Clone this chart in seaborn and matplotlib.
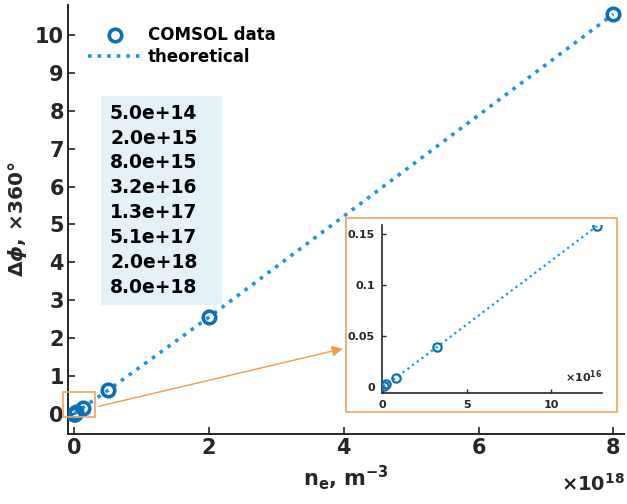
import matplotlib
matplotlib.use("Agg")
import matplotlib.pyplot as plt
import seaborn as sns
from matplotlib.patches import Rectangle

# data
ne = [5.0e14, 2.0e15, 8.0e15, 3.2e16, 1.27e17, 5.1e17, 2.0e18, 8.0e18]
phase = [0.0006, 0.0025, 0.0092, 0.039, 0.158, 0.63, 2.55, 10.55]
theory_phase = [0.0006, 0.0025, 0.0092, 0.039, 0.158, 0.63, 2.55, 10.55]
ne_labels = ["5.0e+14", "2.0e+15", "8.0e+15", "3.2e+16",
             "1.3e+17", "5.1e+17", "2.0e+18", "8.0e+18"]

# inset: only points below 2e17, x in units of 1e16
ne_small = [n / 1e16 for n in ne[:5]]
phase_small = phase[:5]
theory_small = theory_phase[:5]

sns.set_style("ticks")
plt.rcParams["font.family"] = ["DejaVu Sans"]
plt.rcParams["font.weight"] = "bold"
plt.rcParams["mathtext.fontset"] = "dejavusans"

dark = "#262626"
mark_col = "#0e6fb8"
line_col = "#1d95e2"
orange = "#f4a261"

fig = plt.figure(figsize=(6.27, 5.04), dpi=100)
ax = fig.add_axes([0.1085, 0.139, 0.887, 0.851])

ne18 = [n / 1e18 for n in ne]
sns.lineplot(x=ne18, y=phase, ax=ax, marker="o", linestyle="none",
             markerfacecolor="none", markeredgecolor=mark_col, ms=9, mew=2.6,
             label="COMSOL data", zorder=3)
sns.lineplot(x=ne18, y=theory_phase, ax=ax, color=line_col, linestyle=":",
             lw=2.6, label="theoretical", zorder=2)

ax.set_xlim(-0.089, 8.16)
ax.set_ylim(-0.53, 10.79)
ax.set_xticks([0, 2, 4, 6, 8])
ax.set_yticks(range(0, 11))
ax.tick_params(direction="in", length=5, width=1.2, labelsize=15, colors=dark, pad=3)
for lab in ax.get_xticklabels() + ax.get_yticklabels():
    lab.set_fontweight("bold")
sns.despine(ax=ax)
for s in ["left", "bottom"]:
    ax.spines[s].set_linewidth(1.4)
    ax.spines[s].set_color(dark)

ax.set_xlabel(r"n$_\mathbf{e}$, m$^\mathbf{-3}$", fontsize=15, fontweight="bold",
              color=dark, labelpad=4)
ax.set_ylabel(r"$\Delta\phi$, $\times$360°", fontsize=14.5, fontweight="bold",
              color=dark, labelpad=4)
fig.text(0.997, 0.040, r"$\times$10$^\mathbf{18}$", ha="right", va="center",
         fontsize=14, fontweight="bold", color=dark)

leg = ax.legend(loc="upper left", bbox_to_anchor=(0.036, 0.95), frameon=False,
                fontsize=12, handlelength=3.2, handletextpad=0.4,
                labelspacing=0.2, borderpad=0, borderaxespad=0)
for t in leg.get_texts():
    t.set_fontweight("bold")
    t.set_color("black")

# box with the densities
ax.add_patch(Rectangle((0.059, 0.3007), 0.2176, 0.487, transform=ax.transAxes,
                       facecolor="#e4f2f8", edgecolor="none", zorder=1))
for i, lab in enumerate(ne_labels):
    ax.text(0.0755, 0.748 - i * 0.058, lab, transform=ax.transAxes,
            fontsize=13.5, fontweight="bold", color="black", va="center", zorder=4)

# small rectangle around the zoomed region
ax.add_patch(Rectangle((-0.16, -0.08), 0.47, 0.66, facecolor="none",
                       edgecolor=orange, lw=1.2, clip_on=False, zorder=5))

# frame around the inset
fig.patches.append(Rectangle((0.552, 0.1825), 0.432, 0.385, transform=fig.transFigure,
                             facecolor="white", edgecolor=orange, lw=1.2, zorder=1))

ax.annotate("", xy=(0.551, 0.3095), xytext=(0.153, 0.1925),
            xycoords="figure fraction", textcoords="figure fraction",
            arrowprops=dict(arrowstyle="-|>", color="#f29a48", lw=1.0,
                            mutation_scale=16))

# inset
axi = fig.add_axes([0.609, 0.2202, 0.351, 0.333])
axi.set_zorder(3)
sns.lineplot(x=ne_small, y=theory_small, ax=axi, color=line_col, linestyle=":",
             lw=1.6, zorder=2)
sns.lineplot(x=ne_small, y=phase_small, ax=axi, marker="o", linestyle="none",
             markerfacecolor="none", markeredgecolor=mark_col, ms=6, mew=1.6, zorder=3)
axi.set_xlim(-0.05, 13.0)
axi.set_ylim(-0.006, 0.159)
axi.set_xticks([0, 5, 10])
axi.set_yticks([0, 0.05, 0.1, 0.15])
axi.set_yticklabels(["0", "0.05", "0.1", "0.15"])
axi.tick_params(direction="in", length=3, width=1, labelsize=8, colors=dark, pad=5)
for lab in axi.get_xticklabels() + axi.get_yticklabels():
    lab.set_fontweight("bold")
sns.despine(ax=axi)
for s in ["left", "bottom"]:
    axi.spines[s].set_linewidth(1.2)
    axi.spines[s].set_color(dark)
axi.text(1.0, 0.1, r"$\times$10$^\mathbf{16}$", transform=axi.transAxes,
         ha="right", va="center", fontsize=8, fontweight="bold", color=dark)

fig.savefig("out.png", dpi=100)
